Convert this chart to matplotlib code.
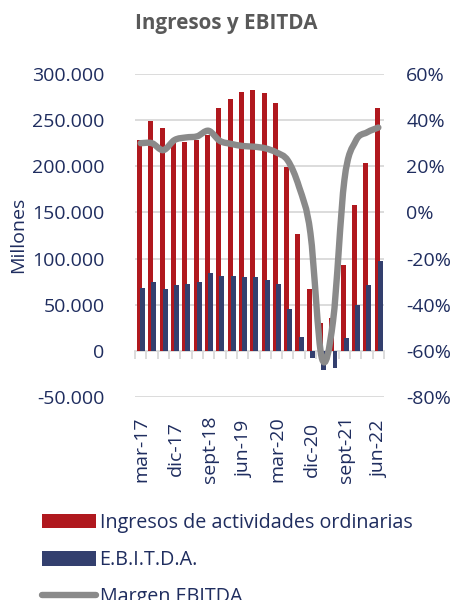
import matplotlib
matplotlib.use("Agg")
import matplotlib.pyplot as plt
import matplotlib.transforms as mtransforms
import numpy as np
from matplotlib.path import Path
from matplotlib.patches import PathPatch, Patch
from matplotlib.lines import Line2D

# ---- data ----
quarters = ["mar-17", "jun-17", "sept-17", "dic-17", "mar-18", "jun-18", "sept-18", "dic-18",
            "mar-19", "jun-19", "sept-19", "dic-19", "mar-20", "jun-20", "sept-20", "dic-20",
            "mar-21", "jun-21", "sept-21", "dic-21", "mar-22", "jun-22"]
ingresos = [228000, 249000, 242000, 225000, 226000, 228000, 234000, 263000, 273000, 280000, 283000,
            279000, 269000, 199000, 127000, 67000, 30000, 36000, 93000, 158000, 204000, 263000]
ebitda = [68000, 74500, 66600, 71000, 72000, 74500, 84000, 81000, 80600, 80000, 80000,
          77000, 72000, 45000, 15500, -8000, -20500, -18700, 14400, 50000, 71000, 97000]
margen = [0.30, 0.30, 0.27, 0.314, 0.325, 0.33, 0.354, 0.31, 0.297, 0.288, 0.285,
          0.278, 0.26, 0.225, 0.11, -0.09, -0.63, -0.47, 0.14, 0.31, 0.347, 0.368]
label_every = 3
left_ticks = [-50000, 0, 50000, 100000, 150000, 200000, 250000, 300000]
left_ticklabels = ["-50.000", "0", "50.000", "100.000", "150.000", "200.000", "250.000", "300.000"]
right_ticks = [-0.8, -0.6, -0.4, -0.2, 0.0, 0.2, 0.4, 0.6]
right_ticklabels = ["-80%", "-60%", "-40%", "-20%", "0%", "20%", "40%", "60%"]
title = "Ingresos y EBITDA"
ylabel = "Millones"
series_names = ["Ingresos de actividades ordinarias", "E.B.I.T.D.A.", "Margen EBITDA"]

RED = "#B0181E"
NAVY = "#333F6E"
GRAY = "#8A8A8A"
TXT = "#1F2D5F"
GRID = "#D9D9D9"

plt.rcParams['font.family'] = ['Open Sans', 'DejaVu Sans']

fig = plt.figure(figsize=(4.5, 6), dpi=100)
W, H = 450, 600
ax = fig.add_axes([135 / W, 1 - 397 / H, (384 - 135) / W, (397 - 74) / H])
ax2 = ax.twinx()

x = np.arange(len(quarters))
bw = 0.44
ax.bar(x - 0.10, ingresos, width=bw, color=RED, zorder=2)
ax.bar(x + 0.17, ebitda, width=bw, color=NAVY, zorder=3)

ax.set_xlim(-0.5, len(quarters) - 0.5)
ax.set_ylim(-50000, 300000)
ax2.set_ylim(-0.8, 0.6)

# grid lines
for t in left_ticks:
    if t != 0:
        ax.axhline(t, color=GRID, lw=1.3, zorder=0)

ax.set_yticks(left_ticks, left_ticklabels)
ax2.set_yticks(right_ticks, right_ticklabels)
ax.tick_params(axis='y', length=0, pad=22, labelsize=14, labelcolor=TXT)
ax2.tick_params(axis='y', length=0, pad=16, labelsize=14, labelcolor=TXT)

for a in (ax, ax2):
    for s in ['top', 'left', 'right']:
        a.spines[s].set_visible(False)
ax2.spines['bottom'].set_visible(False)
ax.spines['bottom'].set_position(('data', 0))
ax.spines['bottom'].set_color(GRID)
ax.spines['bottom'].set_linewidth(1.3)
ax.spines['bottom'].set_zorder(1)

# category boundary ticks at zero line
ax.set_xticks(np.arange(len(quarters) + 1) - 0.5)
ax.tick_params(axis='x', length=6, width=1.3, color=GRID, labelbottom=False, direction='out')

# category labels at the bottom
trans = mtransforms.blended_transform_factory(ax.transData, fig.transFigure)
for i in range(0, len(quarters), label_every):
    ax.text(x[i] + 0.1, 1 - 449 / H, quarters[i], transform=trans, rotation=90,
            ha='center', va='center', fontsize=14, color=TXT)

# smoothed margin line (Bezier through the data points)
m = np.array(margen)
verts = [(x[0], m[0])]
codes = [Path.MOVETO]
n = len(x)
for i in range(n - 1):
    p0 = np.array([x[max(i - 1, 0)], m[max(i - 1, 0)]])
    p1 = np.array([x[i], m[i]])
    p2 = np.array([x[i + 1], m[i + 1]])
    p3 = np.array([x[min(i + 2, n - 1)], m[min(i + 2, n - 1)]])
    c1 = p1 + (p2 - p0) / 6.0
    c2 = p2 - (p3 - p1) / 6.0
    verts += [tuple(c1), tuple(c2), tuple(p2)]
    codes += [Path.CURVE4, Path.CURVE4, Path.CURVE4]
ax2.add_patch(PathPatch(Path(verts, codes), facecolor='none', edgecolor=GRAY, lw=4.6,
                        capstyle='round', joinstyle='round', zorder=4))

fig.text(226 / W, 1 - 29.5 / H, title, ha='center', va='baseline', fontsize=14.9,
         fontweight='bold', color='#595959')
fig.text(18 / W, 1 - 235 / H, ylabel, rotation=90, ha='center', va='center',
         fontsize=14, color=TXT)

handles = [Patch(facecolor=RED), Patch(facecolor=NAVY),
           Line2D([0], [0], color=GRAY, lw=4.6, solid_capstyle='round')]
fig.legend(handles, series_names, loc='upper left', bbox_to_anchor=(42 / W, 1 - 513 / H),
           frameon=False, fontsize=14.2, handlelength=2.72, handleheight=0.75,
           handletextpad=0.2, labelspacing=0.87, borderpad=0, borderaxespad=0,
           labelcolor=TXT)

fig.savefig("out.png", dpi=100)
